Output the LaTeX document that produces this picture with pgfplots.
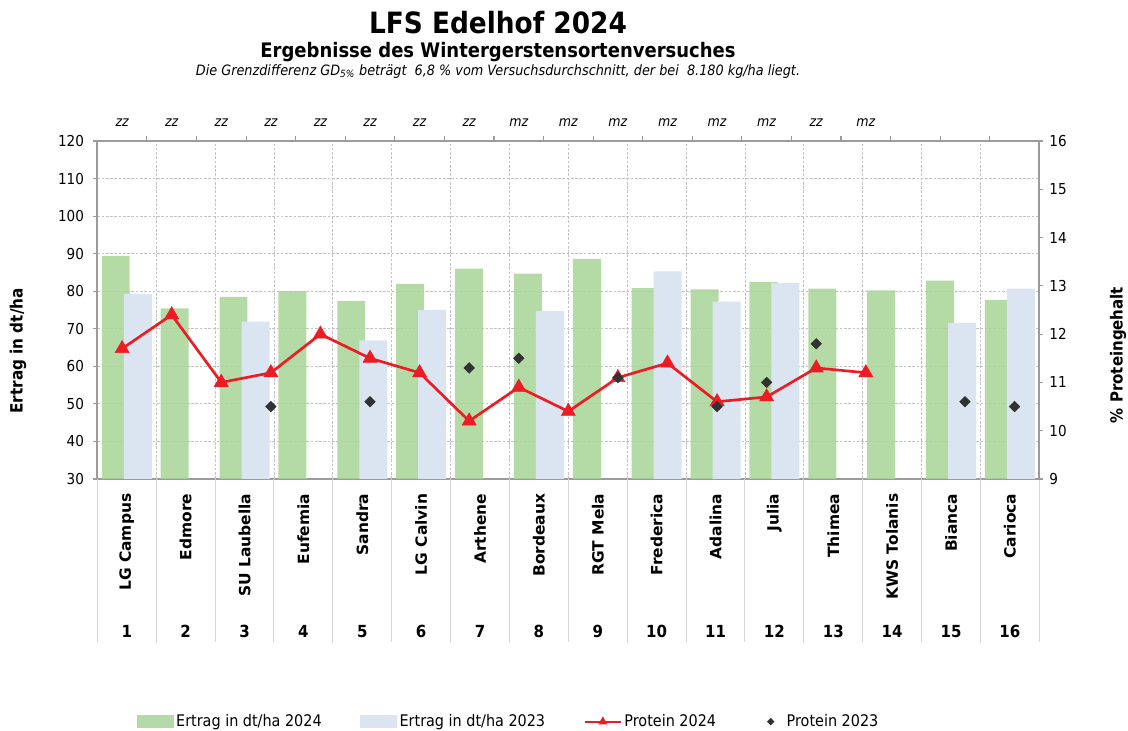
\documentclass[border=0pt]{standalone}
\usepackage{pgfplots}
\usepackage{pgfplotstable}
\pgfplotsset{compat=1.18}
\usepackage{fontspec}
\setmainfont{DejaVu Sans Condensed}
\newfontfamily\widefont{DejaVu Sans}
\definecolor{g24}{RGB}{180,218,167}
\definecolor{g24base}{RGB}{167,212,151}
\definecolor{b23}{RGB}{219,229,241}
\definecolor{pr}{RGB}{236,28,36}
\definecolor{dia}{RGB}{50,50,50}
\definecolor{axgray}{RGB}{155,155,155}
\definecolor{gridgray}{RGB}{195,195,195}
\definecolor{sepgray}{RGB}{212,212,212}

\pgfplotsset{
  greenleg/.style={legend image code/.code={\fill[g24] (0pt,-4.5pt) rectangle (27pt,4.5pt);}},
  blueleg/.style={legend image code/.code={\fill[b23] (0pt,-4.5pt) rectangle (27pt,4.5pt);}},
  redleg/.style={legend image code/.code={\draw[mark repeat=2,mark phase=2,##1, line width=1.5pt, mark size=3.4pt] plot coordinates {(0pt,0pt) (13.5pt,0pt) (27pt,0pt)};}},
  dialeg/.style={legend image code/.code={\path[draw=none,fill=none] (0pt,0pt) -- (22pt,0pt); \path[draw=none,fill=dia] (12pt,2.8pt) -- (14.8pt,0pt) -- (12pt,-2.8pt) -- (9.2pt,0pt) -- cycle;}},
}

\pgfplotstableread{
x v
1 89.4
2 75.4
3 78.5
4 80.0
5 77.4
6 81.9
7 86.0
8 84.7
9 88.6
10 80.8
11 80.5
12 82.5
13 80.7
14 80.2
15 82.8
16 77.7
}\ertragA

\pgfplotstableread{
x v
1 79.2
3 71.9
5 66.9
6 75.0
8 74.7
10 85.3
11 77.2
12 82.2
15 71.6
16 80.7
}\ertragB

\pgfplotstableread{
x v
1 11.7
2 12.4
3 11.0
4 11.2
5 12.0
6 11.5
7 11.2
8 10.2
9 10.9
10 10.4
11 11.1
12 11.4
13 10.6
14 10.7
15 11.3
16 11.2
}\protA

\pgfplotstableread{
x v
4 10.5
6 10.6
8 11.3
9 11.5
11 11.1
13 10.5
14 11.0
15 11.8
18 10.6
19 10.5
}\protB

\begin{document}
\begin{tikzpicture}
\useasboundingbox (0,0) rectangle (846pt,548.25pt);

\node[font=\bfseries\fontsize{22}{26}\selectfont] at (373.5pt,531.5pt) {LFS Edelhof 2024};
\node[font=\bfseries\fontsize{15}{18}\selectfont] at (373.5pt,509.5pt) {Ergebnisse des Wintergerstensortenversuches};
\node[font=\itshape\fontsize{10.7}{12}\selectfont] at (373.5pt,494.5pt) {Die Grenzdifferenz GD\textsubscript{5\%} beträgt\ \ 6,8 \% vom Versuchsdurchschnitt, der bei\ \ 8.180 kg/ha liegt.};

\node[font=\bfseries\fontsize{12.7}{14}\selectfont, rotate=90] at (13.5pt,285pt) {Ertrag in dt/ha};
\node[font=\bfseries\fontsize{12.5}{14}\selectfont, rotate=90] at (838.5pt,282pt) {\% Proteingehalt};

\begin{axis}[
  at={(73pt,189pt)}, anchor=south west,
  width=706.5pt, height=253.5pt, scale only axis,
  xmin=0.5, xmax=16.5, ymin=30, ymax=120,
  axis x line*=bottom, axis y line*=left,
  axis line style={draw=axgray, line width=1.5pt},
  clip mode=individual,
  ytick={30,40,...,120},
  ymajorgrids,
  grid style={draw=gridgray, dash pattern=on 2pt off 1.2pt, line width=0.6pt},
  tick align=outside, major tick length=3pt,
  tick style={draw=axgray, line width=0.8pt},
  major x tick style={draw=none},
  xtick={1,...,16},
  xticklabels={LG Campus,Edmore,SU Laubella,Eufemia,Sandra,LG Calvin,Arthene,Bordeaux,RGT Mela,Frederica,Adalina,Julia,Thimea,KWS Tolanis,Bianca,Carioca},
  xticklabel style={rotate=90, anchor=east, font=\widefont\bfseries\fontsize{11.6}{13}\selectfont},
  xticklabel shift=4.5pt,
  yticklabel style={font=\fontsize{11.3}{13}\selectfont, xshift=-3.5pt},
  /pgf/number format/assume math mode=true,
]
\addplot[ybar, bar width=0.475, bar shift=-0.187, fill=g24base, fill opacity=0.85, draw=none] table[x=x,y=v] {\ertragA};
\addplot[ybar, bar width=0.475, bar shift=0.187, fill=b23, draw=none] table[x=x,y=v] {\ertragB};
\pgfplotsinvokeforeach{1.5,2.5,...,15.5}{
  \draw[gridgray, dash pattern=on 2pt off 1.2pt, line width=0.6pt] (axis cs:#1,30) -- (axis cs:#1,120);
}
\pgfplotsinvokeforeach{0.5,1.5,...,16.5}{
  \draw[sepgray, line width=0.8pt] (axis cs:#1,30) -- (axis cs:#1,-13.4);
}
\pgfplotsinvokeforeach{1,...,16}{
  \node[font=\bfseries\fontsize{12.5}{14}\selectfont] at (axis cs:#1,30) [yshift=-114.5pt] {#1};
}
\end{axis}

\begin{axis}[
  at={(73pt,189pt)}, anchor=south west,
  width=706.5pt, height=253.5pt, scale only axis,
  xmin=0.5, xmax=19.5, ymin=9, ymax=16,
  axis x line*=top, axis y line*=right,
  axis line style={draw=axgray, line width=1.5pt},
  ytick={9,...,16},
  tick align=outside, major tick length=3pt, minor tick length=3.5pt,
  tick style={draw=axgray, line width=0.8pt},
  major x tick style={draw=none},
  xtick={1,...,16},
  minor xtick={1.5,2.5,...,18.5},
  xticklabels={zz,zz,zz,zz,zz,zz,zz,zz,mz,mz,mz,mz,mz,mz,zz,mz},
  xticklabel style={font=\itshape\fontsize{10.5}{12}\selectfont},
  xticklabel shift=4.5pt,
  yticklabel style={font=\fontsize{11.3}{13}\selectfont, xshift=1pt},
  /pgf/number format/assume math mode=true,
  legend style={at={(0.437,-0.718)}, anchor=center, legend columns=4, draw=none, fill=none,
    font=\fontsize{12}{14}\selectfont,
    /tikz/every even column/.append style={column sep=27pt}},
]
\addlegendimage{greenleg}
\addlegendentry{Ertrag in dt/ha 2024}
\addlegendimage{blueleg}
\addlegendentry{Ertrag in dt/ha 2023}
\addplot[pr, line width=2pt, mark=triangle*, mark size=6pt, mark options={solid, fill=pr, draw=pr, line width=0.5pt}, redleg]
  table[x=x,y=v] {\protA};
\addlegendentry{Protein 2024}
\addplot[only marks, mark=square*, mark size=2.8pt, mark options={rotate=45, fill=dia, draw=dia}, forget plot]
  table[x=x,y=v] {\protB};
\addlegendimage{dialeg}
\addlegendentry{Protein 2023}
\end{axis}
\end{tikzpicture}
\end{document}
